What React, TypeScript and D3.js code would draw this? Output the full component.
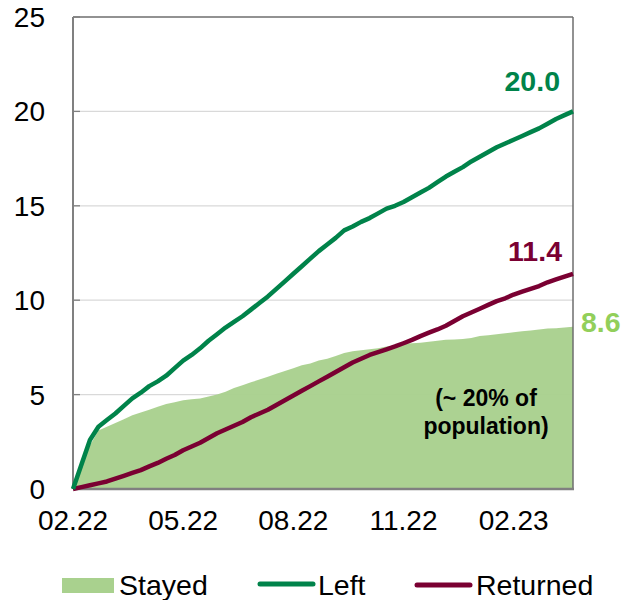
import React from "react";
import * as d3 from "d3";

// Weekly cumulative figures, millions, from late February 2022
const stayed = [
  0, 1.2, 2.3, 3.1, 3.3, 3.5, 3.7, 3.9, 4.05, 4.2,
  4.35, 4.5, 4.6, 4.7, 4.75, 4.8, 4.9, 5.0, 5.15, 5.35,
  5.5, 5.65, 5.8, 5.95, 6.1, 6.25, 6.4, 6.55, 6.65, 6.8,
  6.9, 7.05, 7.2, 7.3, 7.35, 7.4, 7.45, 7.55, 7.6, 7.7,
  7.72, 7.75, 7.8, 7.85, 7.9, 7.92, 7.95, 8.0, 8.1, 8.15,
  8.2, 8.25, 8.3, 8.35, 8.4, 8.45, 8.5, 8.52, 8.55, 8.6,
];

const left = [
  0, 1.3, 2.6, 3.3, 3.65, 4.0, 4.4, 4.8, 5.1, 5.45,
  5.7, 6.0, 6.4, 6.8, 7.1, 7.45, 7.85, 8.2, 8.55, 8.85,
  9.15, 9.5, 9.85, 10.2, 10.6, 11.0, 11.4, 11.8, 12.2, 12.6,
  12.95, 13.3, 13.7, 13.9, 14.15, 14.35, 14.6, 14.85, 15.0, 15.2,
  15.45, 15.7, 15.95, 16.25, 16.55, 16.8, 17.05, 17.35, 17.6, 17.85,
  18.1, 18.3, 18.5, 18.7, 18.9, 19.1, 19.35, 19.6, 19.8, 20.0,
];

const returned = [
  0, 0.1, 0.2, 0.3, 0.4, 0.55, 0.7, 0.85, 1.0, 1.2,
  1.38, 1.6, 1.8, 2.05, 2.25, 2.45, 2.7, 2.95, 3.15, 3.35,
  3.55, 3.8, 4.0, 4.2, 4.45, 4.7, 4.95, 5.2, 5.45, 5.7,
  5.95, 6.2, 6.45, 6.7, 6.9, 7.1, 7.25, 7.4, 7.55, 7.72,
  7.9, 8.1, 8.28, 8.45, 8.65, 8.9, 9.15, 9.35, 9.55, 9.75,
  9.95, 10.1, 10.3, 10.45, 10.6, 10.75, 10.95, 11.1, 11.25, 11.4,
];

const xTickLabels = ["02.22", "05.22", "08.22", "11.22", "02.23"];
const xTickWeeks = [0, 13, 26, 39, 52];
const yTicks = [0, 5, 10, 15, 20, 25];

const COLORS = {
  stayed: "#a9d18e",
  stayedLabel: "#92cf5a",
  left: "#00834a",
  returned: "#7a0032",
  grid: "#d9d9d9",
  axis: "#808080",
  frame: "#6e6e6e",
};

const FONT = "'Liberation Sans', Arial, sans-serif";

export default function App() {
  const width = 625;
  const height = 600;
  const m = { left: 73, right: 52, top: 17, bottom: 111 };
  const x0 = m.left;
  const x1 = width - m.right;
  const y0 = height - m.bottom;
  const y1 = m.top;

  const x = d3.scaleLinear().domain([0, left.length - 1]).range([x0, x1]);
  const y = d3.scaleLinear().domain([0, 25]).range([y0, y1]);

  const areaGen = d3
    .area<number>()
    .x((_, i) => x(i))
    .y0(y(0))
    .y1((d) => y(d));
  const lineGen = d3
    .line<number>()
    .x((_, i) => x(i))
    .y((d) => y(d));

  const last = left.length - 1;

  return (
    <div style={{ position: "absolute", left: 0, top: 0 }}>
      <svg width={width} height={height} style={{ display: "block", fontFamily: FONT }}>
        <rect width={width} height={height} fill="#fff" />

        {/* horizontal gridlines */}
        {yTicks
          .filter((t) => t > 0 && t < 25)
          .map((t) => (
            <line key={t} x1={x0} x2={x1} y1={y(t)} y2={y(t)} stroke={COLORS.grid} strokeWidth={1.3} />
          ))}

        {/* stayed area */}
        <path d={areaGen(stayed) ?? ""} fill={COLORS.stayed} fillOpacity={0.97} />

        {/* frame */}
        <line x1={x0} x2={x1} y1={y1} y2={y1} stroke={COLORS.frame} strokeWidth={1.5} />
        <line x1={x1} x2={x1} y1={y1} y2={y0} stroke={COLORS.frame} strokeWidth={1.5} />
        <line x1={x0} x2={x0} y1={y1} y2={y0} stroke={COLORS.axis} strokeWidth={2} />
        <line x1={x0} x2={x1 + 1} y1={y0} y2={y0} stroke={COLORS.axis} strokeWidth={2.5} />

        {/* inner y ticks */}
        {yTicks.map((t) => (
          <line key={t} x1={x0} x2={x0 + 7} y1={y(t)} y2={y(t)} stroke={COLORS.axis} strokeWidth={1.3} />
        ))}

        {/* lines */}
        <path d={lineGen(returned) ?? ""} fill="none" stroke={COLORS.returned} strokeWidth={4.5} strokeLinejoin="round" />
        <path d={lineGen(left) ?? ""} fill="none" stroke={COLORS.left} strokeWidth={4.5} strokeLinejoin="round" />

        {/* y tick labels */}
        {yTicks.map((t) => (
          <text key={t} x={45} y={y(t)} dy="0.36em" textAnchor="end" fontSize={28} fill="#000">
            {t}
          </text>
        ))}

        {/* x tick labels */}
        {xTickWeeks.map((w, i) => (
          <text key={w} x={x(w)} y={530} textAnchor="middle" fontSize={28} fill="#000">
            {xTickLabels[i]}
          </text>
        ))}

        {/* end-of-series values */}
        <text x={x(last) - 13} y={y(left[last]) - 20} textAnchor="end" fontSize={28.5} fontWeight="bold" fill={COLORS.left}>
          {left[last].toFixed(1)}
        </text>
        <text x={x(last) - 11} y={y(returned[last]) - 13} textAnchor="end" fontSize={28.5} fontWeight="bold" fill={COLORS.returned}>
          {returned[last].toFixed(1)}
        </text>
        <text x={x(last) + 8} y={y(stayed[last]) + 5} textAnchor="start" fontSize={28.5} fontWeight="bold" fill={COLORS.stayedLabel}>
          {stayed[last].toFixed(1)}
        </text>

        {/* annotation inside the area */}
        <text x={486} y={406} textAnchor="middle" fontSize={23} fontWeight="bold" fill="#000">
          (~ 20% of
        </text>
        <text x={486} y={434} textAnchor="middle" fontSize={23} fontWeight="bold" fill="#000">
          population)
        </text>

        {/* legend */}
        <g>
          <rect x={62} y={578} width={52} height={15} fill={COLORS.stayed} />
          <text x={119} y={595} fontSize={28.5} fill="#000">Stayed</text>
          <line x1={260} x2={313} y1={584} y2={584} stroke={COLORS.left} strokeWidth={5} strokeLinecap="round" />
          <text x={318} y={595} fontSize={28.5} fill="#000">Left</text>
          <line x1={417} x2={470} y1={585} y2={585} stroke={COLORS.returned} strokeWidth={5} strokeLinecap="round" />
          <text x={476} y={595} fontSize={28.5} fill="#000">Returned</text>
        </g>
      </svg>
    </div>
  );
}
